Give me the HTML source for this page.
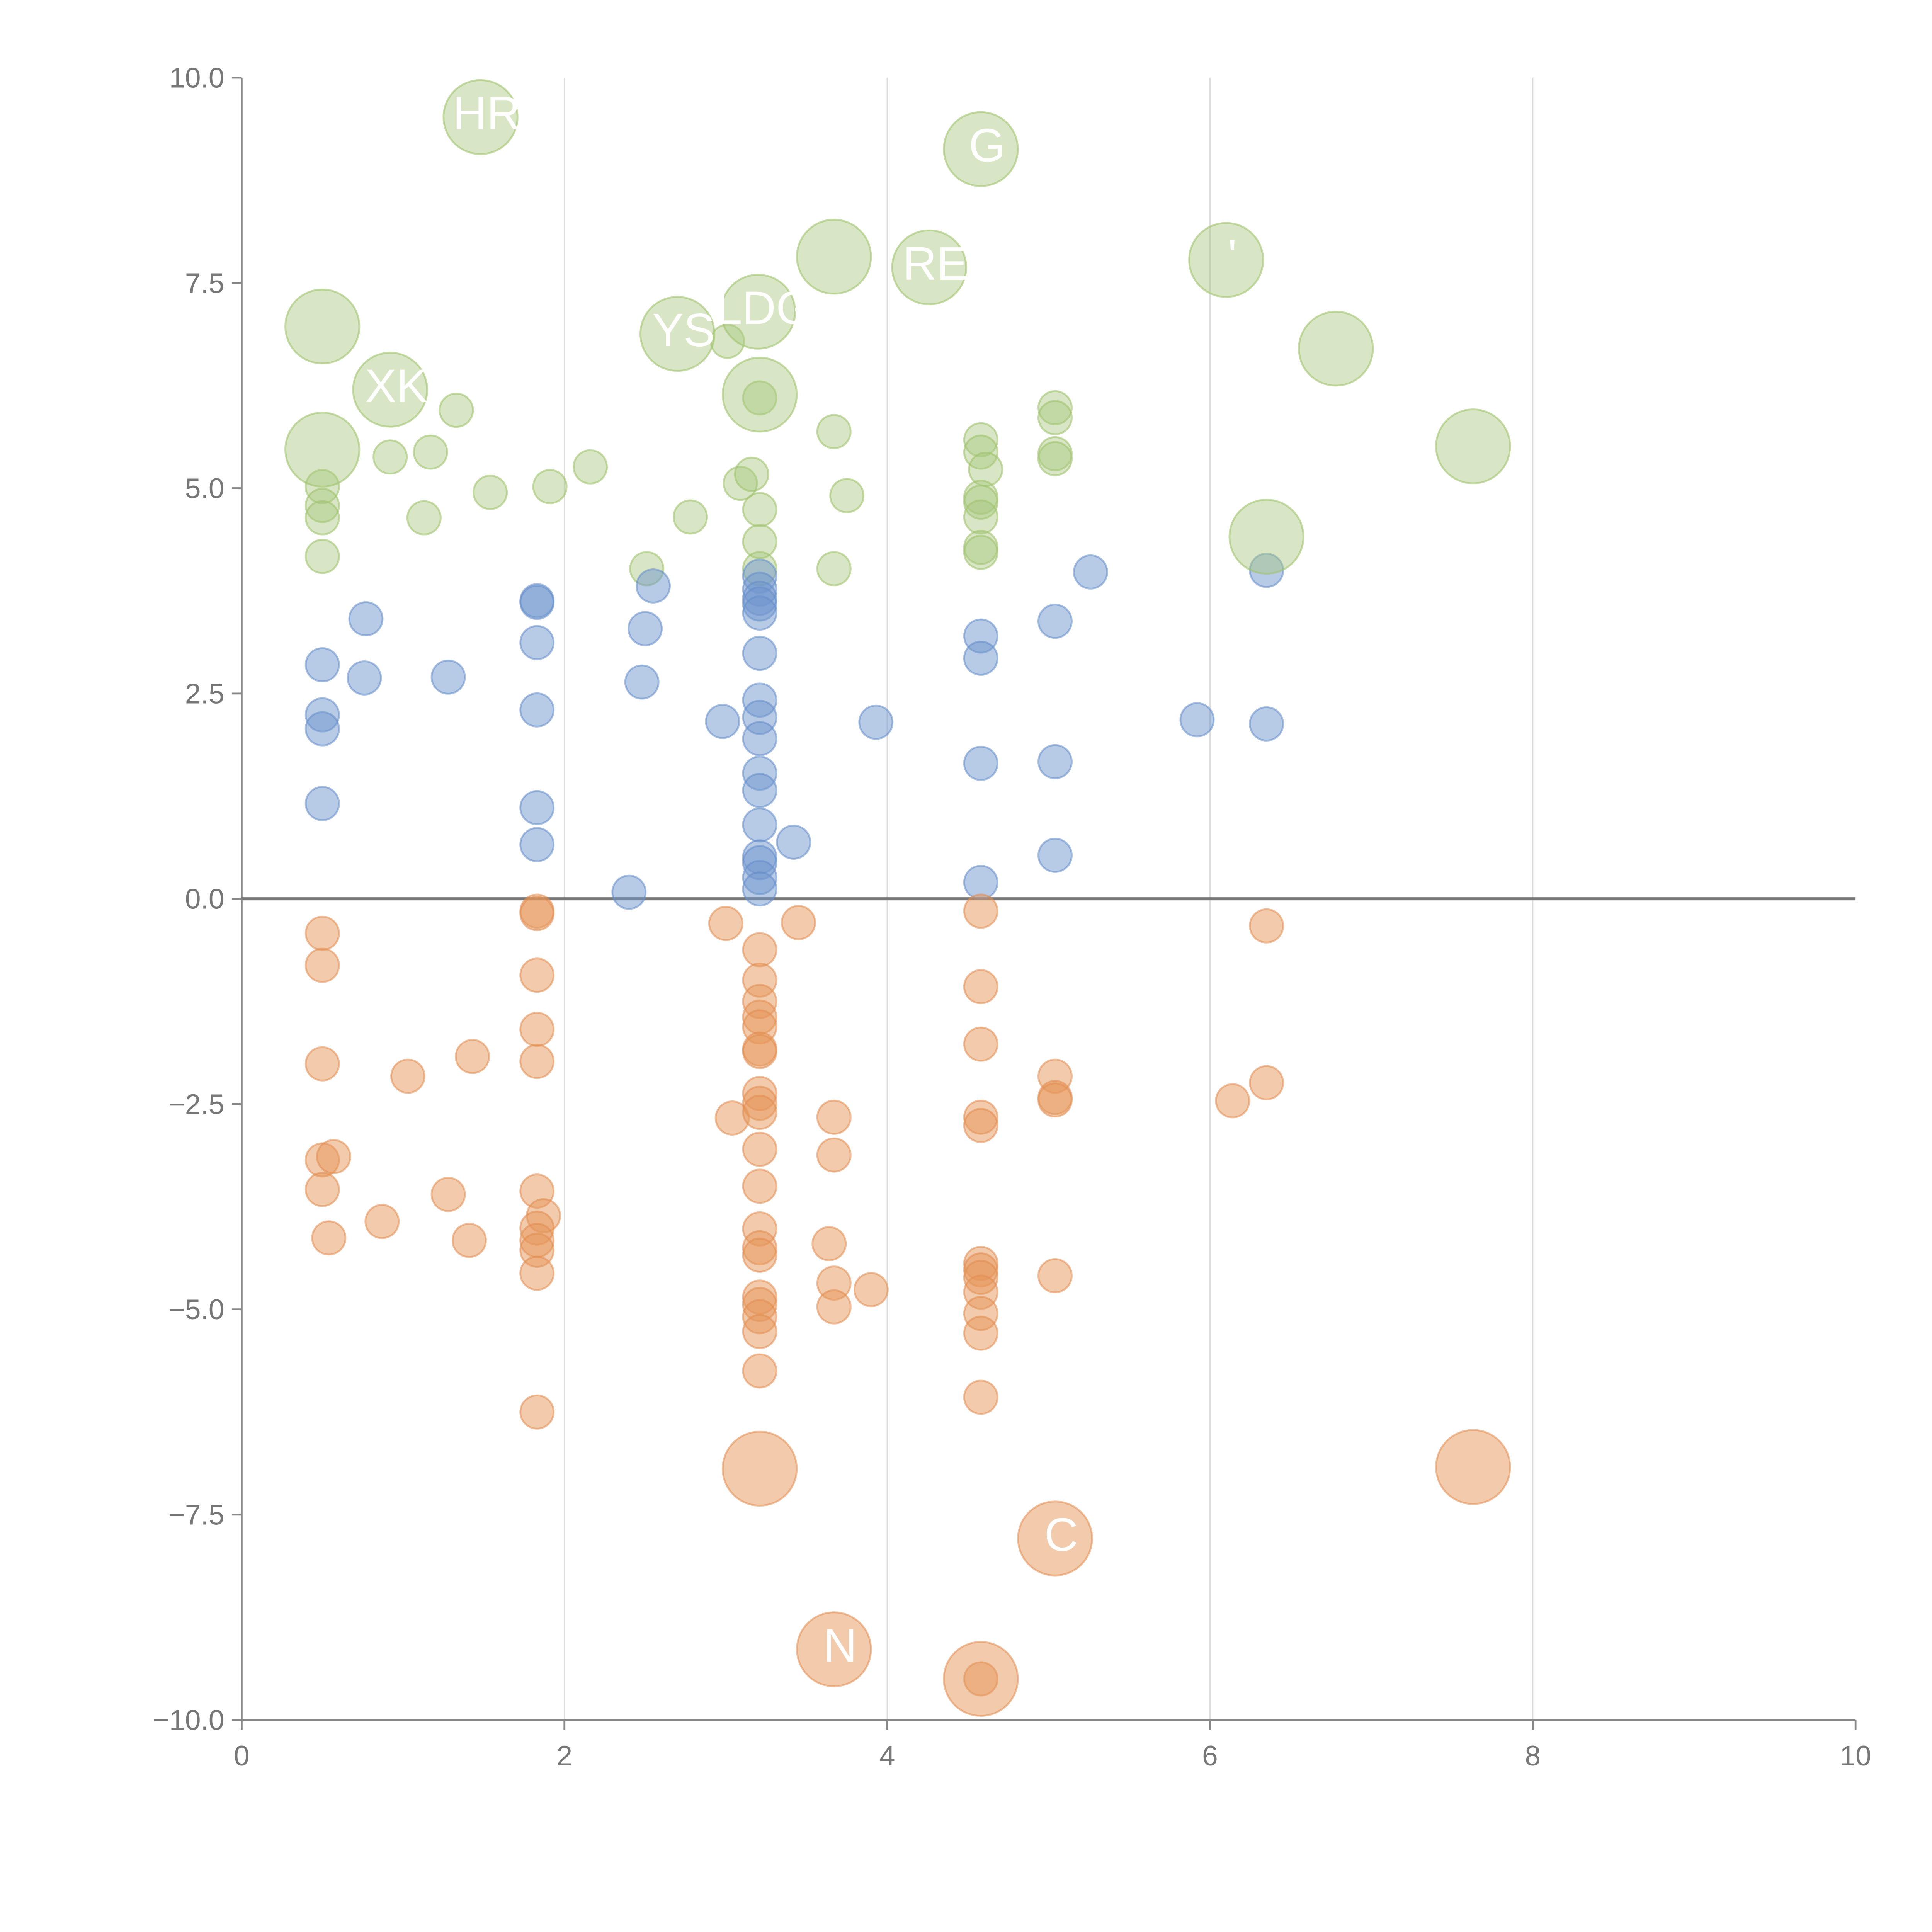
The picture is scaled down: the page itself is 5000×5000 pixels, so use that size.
<!DOCTYPE html>
<html><head><meta charset="utf-8"><style>html,body{margin:0;padding:0;background:#fff}svg{display:block}</style></head>
<body>
<svg id="chart" width="5000" height="5000" viewBox="0 0 1567 1567" xmlns="http://www.w3.org/2000/svg" font-family="'Liberation Sans', sans-serif"></svg>
<script>
const xTicks = [0, 2, 4, 6, 8, 10];
const yTicks = [-10, -7.5, -5, -2.5, 0, 2.5, 5, 7.5, 10];
const yTickLabels = ["\u221210.0", "\u22127.5", "\u22125.0", "\u22122.5", "0.0", "2.5", "5.0", "7.5", "10.0"];

const greenSmallX = [.5,.5,.5,.5,.92,1.17,1.13,1.33,1.54,1.91,2.16,2.51,2.78,3.01,3.09,3.16,3.21,3.21,3.21,3.21,3.67,3.75,3.67,4.58,4.58,4.61,4.58,4.58,4.58,4.58,4.58,5.04,5.04,5.04,5.04];
const greenSmallY = [5.02,4.79,4.64,4.17,5.38,5.44,4.64,5.95,4.95,5.02,5.26,4.02,4.65,6.79,5.06,5.17,4.74,4.35,4.02,6.10,5.69,4.91,4.02,5.59,5.44,5.23,4.89,4.83,4.65,4.28,4.22,5.98,5.86,5.42,5.36];
const greenBigX = [1.48,4.58,3.67,4.26,6.10,0.5,0.92,2.70,3.20,3.21,6.78,0.5,7.63,6.35];
const greenBigY = [9.52,9.13,7.82,7.69,7.78,6.97,6.20,6.88,7.15,6.14,6.70,5.47,5.51,4.41];
const greenBigLabels = ["HR","G","","RE","'","","XK","YS","LDG","","","","",""];

const blueX = [.5,.5,.5,.5,.77,.76,1.28,1.83,1.83,1.83,1.83,1.83,1.83,2.55,2.50,2.48,2.40,2.98,3.21,3.21,3.21,3.21,3.21,3.21,3.21,3.21,3.21,3.21,3.21,3.21,3.21,3.21,3.21,3.21,3.42,3.93,4.58,4.58,4.58,4.58,5.04,5.04,5.04,5.26,5.92,6.35,6.35];
const blueY = [2.85,2.24,2.07,1.16,3.41,2.69,2.70,3.63,3.61,3.12,2.30,1.11,0.66,3.81,3.29,2.64,0.08,2.16,3.93,3.77,3.66,3.59,3.48,2.99,2.42,2.21,1.95,1.53,1.32,0.90,0.51,0.44,0.26,0.12,0.69,2.15,3.20,2.93,1.65,0.20,3.38,1.67,0.53,3.98,2.18,4.0,2.13];

const orangeSmallX = [.5,.5,.5,.5,.57,.5,.54,1.03,1.43,1.28,.87,1.41,1.83,1.83,1.83,1.83,1.83,1.83,1.87,1.83,1.83,1.83,1.83,1.83,3.0,3.45,3.04,3.21,3.21,3.21,3.21,3.21,3.21,3.21,3.21,3.21,3.21,3.21,3.21,3.21,3.21,3.21,3.21,3.21,3.21,3.21,3.21,3.67,3.67,3.64,3.67,3.67,3.90,4.58,4.58,4.58,4.58,4.58,4.58,4.58,4.58,4.58,4.58,4.58,4.58,4.58,5.04,5.04,5.04,5.04,6.14,6.35,6.35];
const orangeSmallY = [-.42,-.81,-2.01,-3.18,-3.14,-3.54,-4.13,-2.16,-1.92,-3.6,-3.93,-4.16,-.15,-.18,-.93,-1.59,-1.98,-3.56,-3.86,-4.01,-4.16,-4.28,-4.56,-6.25,-.30,-.29,-2.67,-.62,-.99,-1.25,-1.44,-1.56,-1.83,-1.86,-2.37,-2.49,-2.6,-3.05,-3.5,-4.02,-4.25,-4.34,-4.85,-4.94,-5.09,-5.27,-5.75,-2.66,-3.12,-4.2,-4.68,-4.97,-4.76,-.15,-1.07,-1.77,-2.66,-2.76,-4.44,-4.52,-4.61,-4.79,-5.05,-5.29,-6.07,-9.5,-2.16,-2.42,-2.45,-4.59,-2.46,-2.24,-.33];
const orangeBigX = [3.21,3.67,4.58,5.04,7.63];
const orangeBigY = [-6.94,-9.14,-9.5,-7.79,-6.92];
const orangeBigLabels = ["","N","","C",""];

const NS = "http://www.w3.org/2000/svg";
const svg = document.getElementById("chart");
const X0 = 196, XS = 130.9, Y0 = 729, YS = 66.6;
const sx = v => X0 + v * XS;
const sy = v => Y0 - v * YS;
function mk(tag, attrs, parent) {
  const e = document.createElementNS(NS, tag);
  for (const k in attrs) e.setAttribute(k, attrs[k]);
  (parent || svg).appendChild(e);
  return e;
}

const grid = mk("g", {});


xTicks.forEach(t => {
  if (t === 0 || t === 10) return;
  const l = mk("line", {x1: sx(t), x2: sx(t), y1: sy(10), y2: sy(-10), stroke: "#dcdcdc", "stroke-width": 1}, grid);
  
  
});

const xAxis = mk("g", {});


mk("line", {x1: sx(0), x2: sx(10), y1: sy(-10), y2: sy(-10), stroke: "#888", "stroke-width": 1.5}, xAxis);
xTicks.forEach(t => {
  mk("line", {x1: sx(t), x2: sx(t), y1: sy(-10), y2: sy(-10) + 8, stroke: "#888", "stroke-width": 1.5}, xAxis);
  const tx = mk("text", {x: sx(t), y: sy(-10) + 37, "text-anchor": "middle", "font-size": 23, fill: "#777"}, xAxis);
  tx.textContent = t;
  
  
});
const yAxis = mk("g", {});


mk("line", {x1: sx(0), x2: sx(0), y1: sy(10), y2: sy(-10), stroke: "#888", "stroke-width": 1.5}, yAxis);
yTicks.forEach((t, i) => {
  mk("line", {x1: sx(0) - 8, x2: sx(0), y1: sy(t), y2: sy(t), stroke: "#888", "stroke-width": 1.5}, yAxis);
  const tx = mk("text", {x: sx(0) - 14, y: sy(t) + 8, "text-anchor": "end", "font-size": 23, fill: "#777"}, yAxis);
  tx.textContent = yTickLabels[i];
  
  
});
const zl = mk("line", {x1: sx(0), x2: sx(10), y1: sy(0), y2: sy(0), stroke: "#777", "stroke-width": 2.5});



function series(xs, ys, r, fill, stroke, name, labels) {
  const g = mk("g", {});
  
  
  xs.forEach((v, i) => {
    const c = mk("circle", {cx: sx(v), cy: sy(ys[i]), r: r, fill: fill, stroke: stroke, "stroke-width": 1.5}, g);
    
    
    if (labels && labels[i]) {
      const t = mk("text", {x: sx(v) + 5, y: sy(ys[i]) + 10, "text-anchor": "middle", "font-size": 38, fill: "#fff"}, g);
      t.textContent = labels[i];
      
      
    }
  });
}
series(greenSmallX, greenSmallY, 13.5, "rgba(169,199,126,0.45)", "rgba(160,195,110,0.6)", "green-small-series");
series(blueX, blueY, 13.5, "rgba(112,150,205,0.5)", "rgba(100,140,200,0.55)", "blue-series");
series(orangeSmallX, orangeSmallY, 13.5, "rgba(230,150,90,0.5)", "rgba(225,140,80,0.55)", "orange-small-series");
series(greenBigX, greenBigY, 30, "rgba(169,199,126,0.45)", "rgba(160,195,110,0.6)", "green-large-series", greenBigLabels);
series(orangeBigX, orangeBigY, 30, "rgba(230,150,90,0.5)", "rgba(225,140,80,0.55)", "orange-large-series", orangeBigLabels);
</script>
</body></html>
